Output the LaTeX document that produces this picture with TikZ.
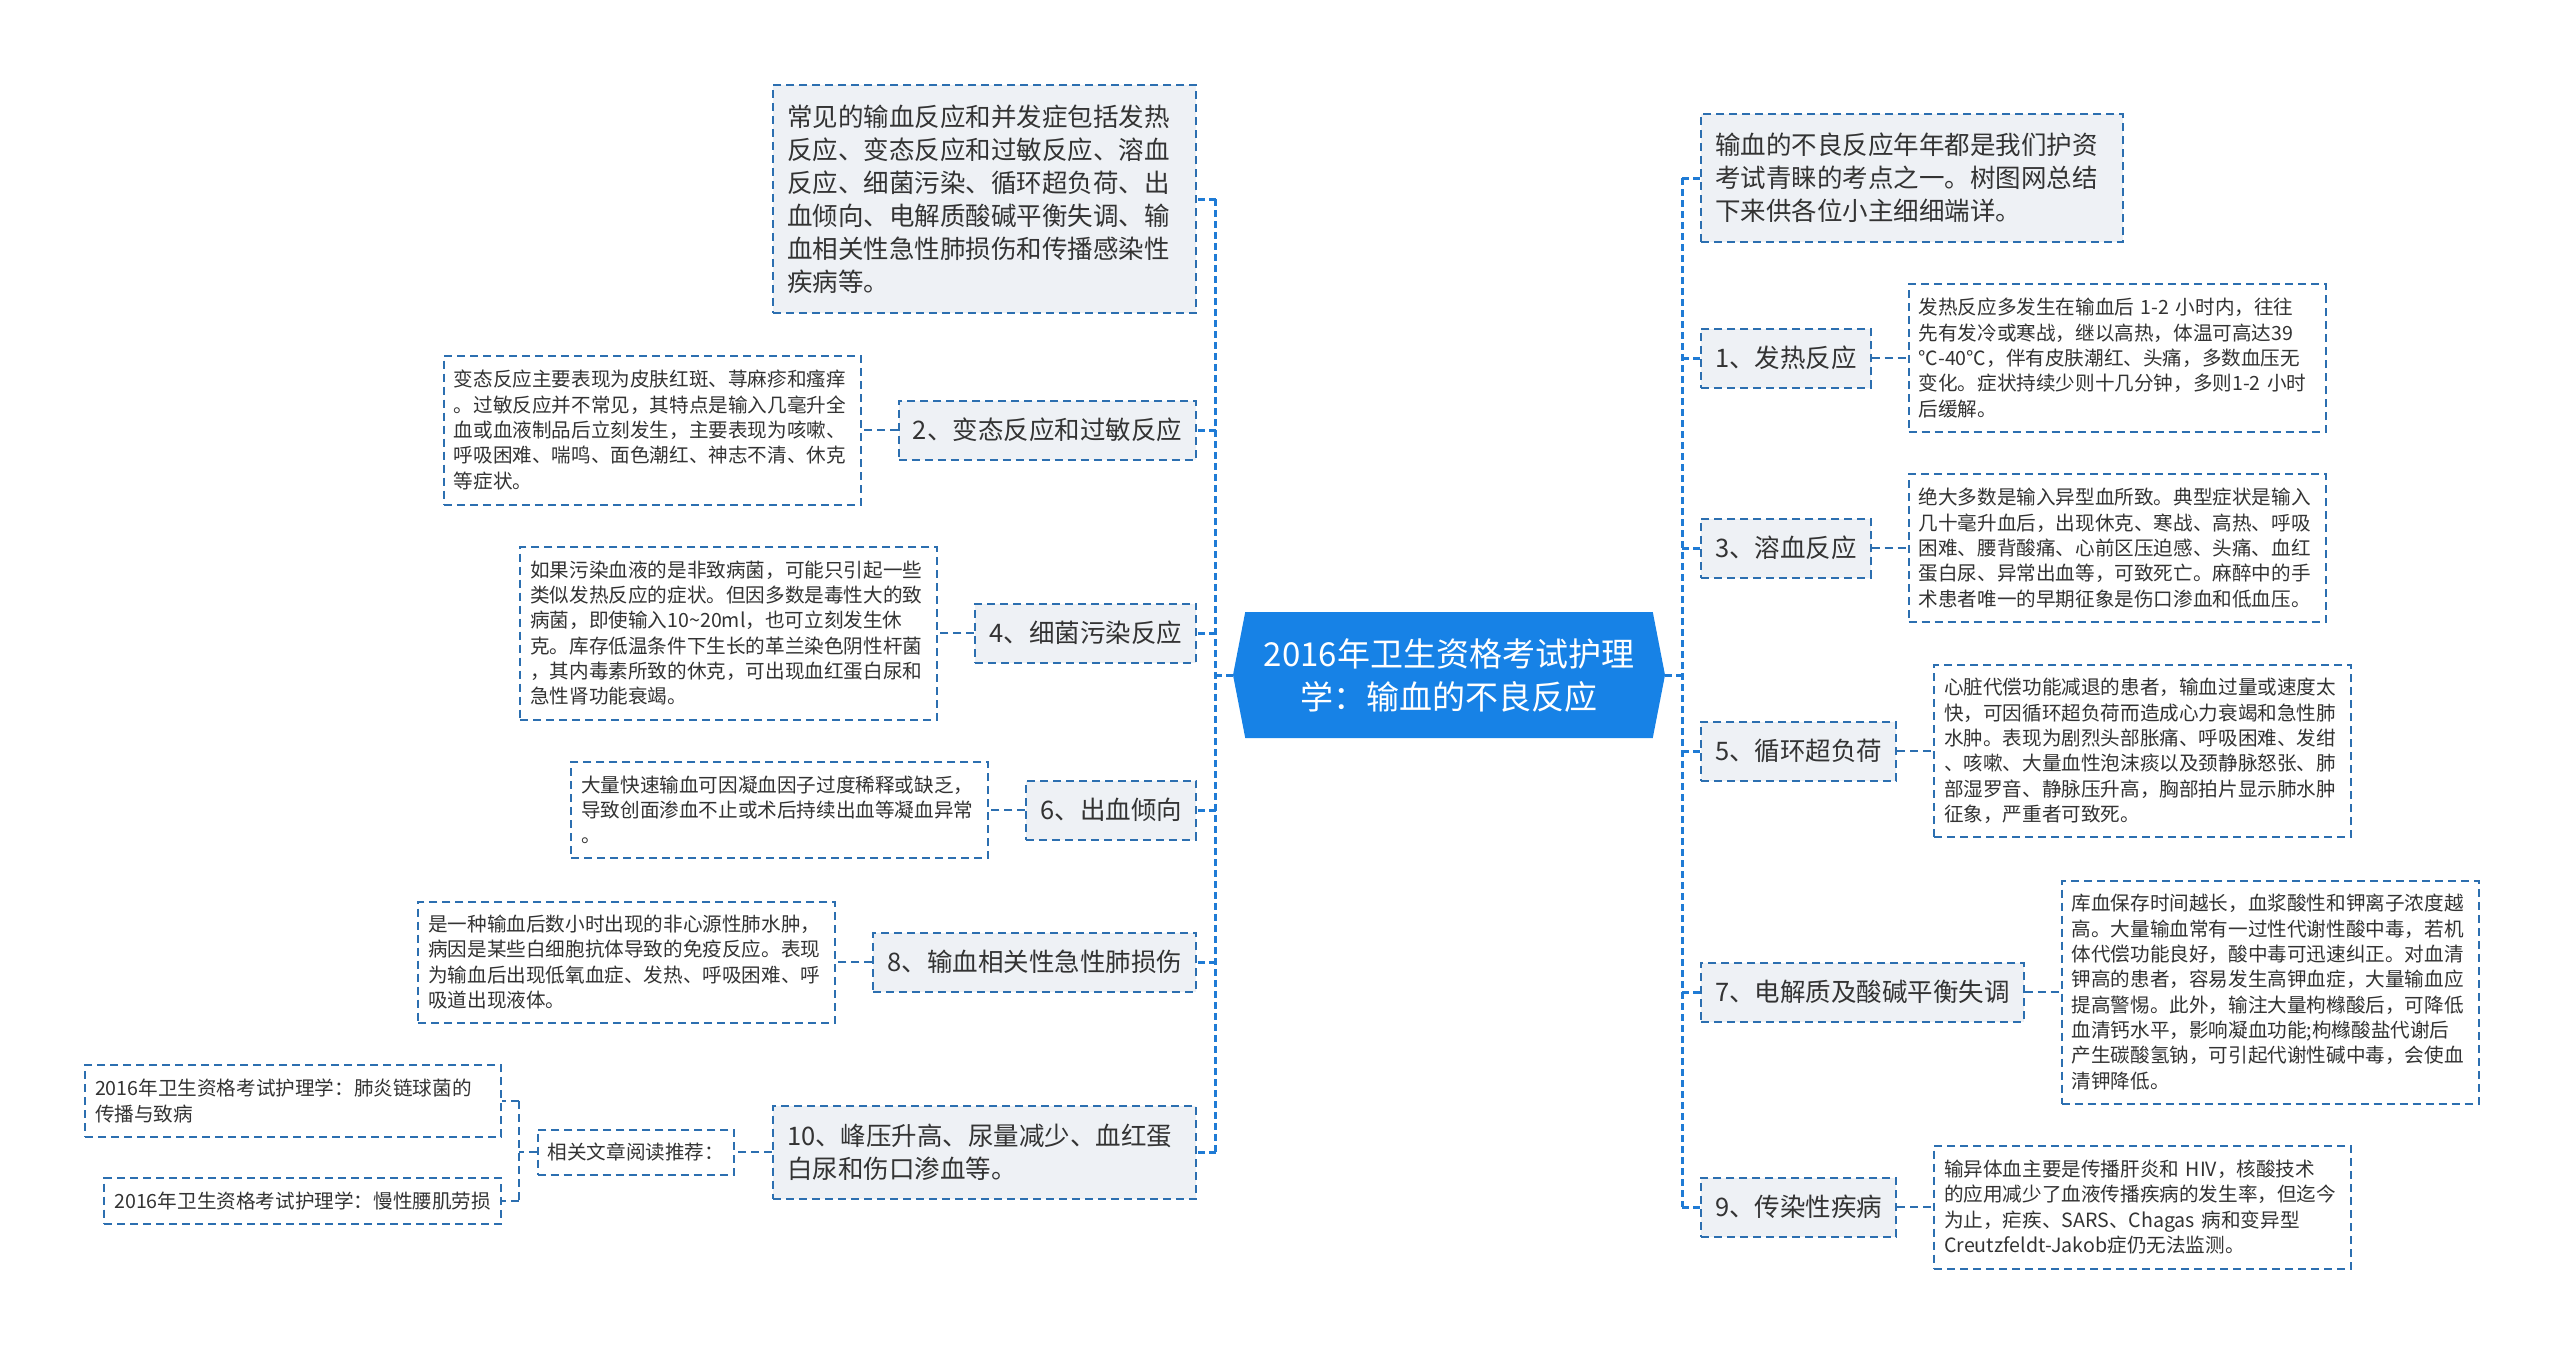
\documentclass[tikz,border=0pt]{standalone}
\usepackage{fontspec}
\setmainfont{Noto Sans CJK SC}
\usetikzlibrary{positioning,shapes.symbols}
\definecolor{rootblue}{HTML}{1782E6}
\definecolor{trunkblue}{HTML}{1F7BD5}
\definecolor{boxline}{HTML}{2C6FB0}
\definecolor{topicfill}{HTML}{EEF1F5}
\definecolor{textgray}{HTML}{333333}
\def\fsroot{\fontsize{33pt}{43pt}\selectfont}
\def\fstopic{\fontsize{25.5pt}{33pt}\selectfont}
\def\fsdesc{\fontsize{19.6pt}{25.3pt}\selectfont}
\tikzset{root/.style={signal,signal to=west and east,signal pointer angle=158,fill=rootblue,text=white,
    minimum width=432pt,minimum height=126pt,align=center,font=\fsroot,inner sep=2pt}}
\tikzset{topic/.style={draw=boxline,line width=2pt,dash pattern=on 8pt off 5pt,fill=topicfill,
    inner xsep=14pt,inner ysep=5pt,minimum height=59pt,align=left,font=\fstopic,text=textgray}}
\tikzset{desc/.style={draw=boxline,line width=2pt,dash pattern=on 8pt off 5pt,fill=white,
    inner xsep=10pt,inner ysep=5pt,align=left,font=\fsdesc,text=textgray}}
\tikzset{descbox/.style={desc,text width=397pt}}
\tikzset{trunk/.style={draw=trunkblue,line width=3pt,dash pattern=on 7pt off 4pt}}
\tikzset{dashlink/.style={draw=boxline,line width=2pt,dash pattern=on 8pt off 5pt}}

\begin{document}
\begin{tikzpicture}[x=1pt,y=-1pt,node distance=36pt]
        \path[use as bounding box,fill=white] (0,0) rectangle (2560,1353);
        \node(root)[root] at (1449,675) {2016年卫生资格考试护理\\学：输血的不良反应};
        % left
        \node(summary)[topic,text width=395pt,minimum height=228pt,anchor=east] at (1197,199)
            {常见的输血反应和并发症包括发热\\反应、变态反应和过敏反应、溶血\\反应、细菌污染、循环超负荷、出\\血倾向、电解质酸碱平衡失调、输\\血相关性急性肺损伤和传播感染性\\疾病等。};
        \node(allergy)[topic,anchor=east] at (1197,430) {2、变态反应和过敏反应};
        \node(infect)[topic,anchor=east] at (1197,633) {4、细菌污染反应};
        \node(bleed)[topic,anchor=east] at (1197,810) {6、出血倾向};
        \node(lung)[topic,anchor=east] at (1197,962) {8、输血相关性急性肺损伤};
        \node(renal)[topic,text width=395pt,minimum height=93pt,anchor=east] at (1197,1152)
            {10、峰压升高、尿量减少、血红蛋\\白尿和伤口渗血等。};
        \node(allergy-t)[descbox,minimum height=149pt,left=of allergy]
            {变态反应主要表现为皮肤红斑、荨麻疹和瘙痒\\。过敏反应并不常见，其特点是输入几毫升全\\血或血液制品后立刻发生，主要表现为咳嗽、\\呼吸困难、喘鸣、面色潮红、神志不清、休克\\等症状。};
        \node(infect-t)[descbox,minimum height=173pt,left=of infect]
            {如果污染血液的是非致病菌，可能只引起一些\\类似发热反应的症状。但因多数是毒性大的致\\病菌，即使输入10\textasciitilde20ml，也可立刻发生休\\克。库存低温条件下生长的革兰染色阴性杆菌\\，其内毒素所致的休克，可出现血红蛋白尿和\\急性肾功能衰竭。};
        \node(bleed-t)[descbox,minimum height=96pt,left=of bleed]
            {大量快速输血可因凝血因子过度稀释或缺乏，\\导致创面渗血不止或术后持续出血等凝血异常\\。};
        \node(lung-t)[descbox,minimum height=121pt,left=of lung]
            {是一种输血后数小时出现的非心源性肺水肿，\\病因是某些白细胞抗体导致的免疫反应。表现\\为输血后出现低氧血症、发热、呼吸困难、呼\\吸道出现液体。};
        \node(related)[desc,minimum height=45pt,left=37pt of renal] {相关文章阅读推荐：};
        \node(linkA)[desc,text width=396pt,minimum height=72pt,anchor=east] at (502,1101)
            {2016年卫生资格考试护理学：肺炎链球菌的\\传播与致病};
        \node(linkB)[desc,minimum height=46pt,anchor=east] at (502,1201)
            {2016年卫生资格考试护理学：慢性腰肌劳损};
        % right
        \node(intro)[topic,text width=394pt,minimum height=128pt,anchor=west] at (1700,178)
            {输血的不良反应年年都是我们护资\\考试青睐的考点之一。树图网总结\\下来供各位小主细细端详。};
        \node(fever)[topic,anchor=west] at (1700,358) {1、发热反应};
        \node(hemo)[topic,anchor=west] at (1700,548) {3、溶血反应};
        \node(overload)[topic,anchor=west] at (1700,751) {5、循环超负荷};
        \node(electro)[topic,anchor=west] at (1700,992) {7、电解质及酸碱平衡失调};
        \node(disease)[topic,anchor=west] at (1700,1207) {9、传染性疾病};
        \node(fever-t)[descbox,minimum height=148pt,right=of fever]
            {发热反应多发生在输血后 1-2 小时内，往往\\先有发冷或寒战，继以高热，体温可高达39\\℃-40℃，伴有皮肤潮红、头痛，多数血压无\\变化。症状持续少则十几分钟，多则1-2 小时\\后缓解。};
        \node(hemo-t)[descbox,minimum height=148pt,right=of hemo]
            {绝大多数是输入异型血所致。典型症状是输入\\几十毫升血后，出现休克、寒战、高热、呼吸\\困难、腰背酸痛、心前区压迫感、头痛、血红\\蛋白尿、异常出血等，可致死亡。麻醉中的手\\术患者唯一的早期征象是伤口渗血和低血压。};
        \node(overload-t)[descbox,minimum height=172pt,right=of overload]
            {心脏代偿功能减退的患者，输血过量或速度太\\快，可因循环超负荷而造成心力衰竭和急性肺\\水肿。表现为剧烈头部胀痛、呼吸困难、发绀\\、咳嗽、大量血性泡沫痰以及颈静脉怒张、肺\\部湿罗音、静脉压升高，胸部拍片显示肺水肿\\征象，严重者可致死。};
        \node(electro-t)[descbox,minimum height=223pt,right=of electro]
            {库血保存时间越长，血浆酸性和钾离子浓度越\\高。大量输血常有一过性代谢性酸中毒，若机\\体代偿功能良好，酸中毒可迅速纠正。对血清\\钾高的患者，容易发生高钾血症，大量输血应\\提高警惕。此外，输注大量枸橼酸后，可降低\\血清钙水平，影响凝血功能;枸橼酸盐代谢后\\产生碳酸氢钠，可引起代谢性碱中毒，会使血\\清钾降低。};
        \node(disease-t)[descbox,minimum height=123pt,right=of disease]
            {输异体血主要是传播肝炎和 HIV，核酸技术\\的应用减少了血液传播疾病的发生率，但迄今\\为止，疟疾、SARS、Chagas 病和变异型\\Creutzfeldt-Jakob症仍无法监测。};
        % connectors
        \draw[trunk] (root.west) -- ++(-17,0) coordinate (lj);
        \draw[trunk] (lj |- summary.east) -- (lj |- renal.east);
        \foreach \n in {summary,allergy,infect,bleed,lung,renal}
          \draw[trunk] (lj |- \n.east) -- (\n.east);
        \draw[trunk] (root.east) -- ++(17,0) coordinate (rj);
        \draw[trunk] (rj |- intro.west) -- (rj |- disease.west);
        \foreach \n in {intro,fever,hemo,overload,electro,disease}
          \draw[trunk] (rj |- \n.west) -- (\n.west);
        \foreach \n in {allergy,infect,bleed,lung}
          \draw[dashlink] (\n.west) -- (\n-t.east);
        \foreach \n in {fever,hemo,overload,electro,disease}
          \draw[dashlink] (\n.east) -- (\n-t.west);
        \draw[dashlink] (renal.west) -- (related.east);
        \draw[dashlink] (related.west) -- ++(-18,0) coordinate (relj);
        \draw[dashlink] (relj |- linkA.east) -- (relj |- linkB.east);
        \foreach \n in {linkA,linkB}
          \draw[dashlink] (relj |- \n.east) -- (\n.east);
\end{tikzpicture}
\end{document}
